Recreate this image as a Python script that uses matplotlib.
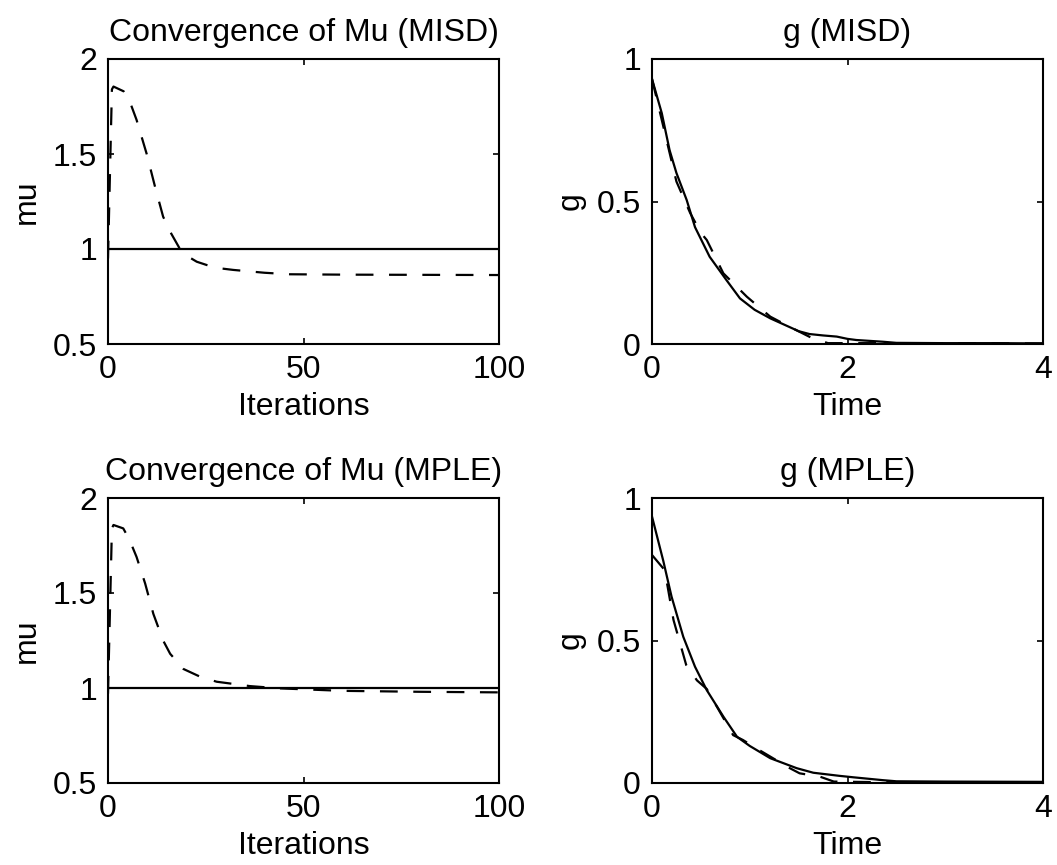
import matplotlib
matplotlib.use("Agg")
import matplotlib.pyplot as plt

plt.rcParams['font.family'] = ['Liberation Sans', 'DejaVu Sans']
FS = 23

# ---- data ----
iter_misd = [0, 1, 1.4, 4, 5.5, 7.3, 9.9, 12, 14.1, 16.2, 18.4, 20.5, 22.7, 25.2, 28, 32, 40, 46.5, 60, 80, 100]
mu_misd = [0.95, 1.84, 1.855, 1.83, 1.78, 1.68, 1.50, 1.33, 1.17, 1.08, 1.00, 0.96, 0.933, 0.916, 0.90, 0.89, 0.875, 0.867, 0.865, 0.864, 0.863]
iter_mple = [0, 1, 1.4, 3.9, 5.5, 7.3, 9.5, 11.6, 14.1, 15.9, 19.3, 23.5, 27.8, 36.3, 44, 60, 80, 100]
mu_mple = [0.97, 1.84, 1.858, 1.84, 1.78, 1.69, 1.55, 1.39, 1.25, 1.18, 1.10, 1.06, 1.033, 1.01, 0.998, 0.985, 0.98, 0.977]
true_mu = 1.0
iter_range = [0, 100]

t_true = [0.0, 0.1, 0.18, 0.25, 0.355, 0.44, 0.59, 0.76, 0.9, 1.05, 1.21, 1.41, 1.5, 1.61, 1.75, 1.89, 2.0, 2.09, 2.36, 2.5, 3.0, 3.5, 4.0]
g_true_misd = [0.93, 0.81, 0.68, 0.60, 0.505, 0.41, 0.306, 0.225, 0.16, 0.12, 0.09, 0.059, 0.045, 0.035, 0.03, 0.026, 0.018, 0.014, 0.008, 0.004, 0.003, 0.003, 0.002]
t_est_misd = [0.0, 0.25, 0.39, 0.5, 0.56, 0.73, 0.97, 1.21, 1.41, 1.63, 1.8, 2.3, 4.0]
g_est_misd = [0.93, 0.57, 0.46, 0.39, 0.365, 0.248, 0.166, 0.096, 0.06, 0.022, 0.003, 0.003, 0.002]

t_true2 = [0.0, 0.115, 0.2, 0.32, 0.44, 0.56, 0.73, 0.87, 1.0, 1.21, 1.48, 1.65, 1.92, 2.06, 2.36, 2.5, 3.0, 4.0]
g_true_mple = [0.935, 0.78, 0.654, 0.513, 0.408, 0.326, 0.233, 0.162, 0.13, 0.087, 0.052, 0.036, 0.025, 0.02, 0.01, 0.006, 0.005, 0.004]
t_est_mple = [0.0, 0.13, 0.22, 0.35, 0.46, 0.56, 0.83, 0.93, 1.1, 1.41, 1.51, 1.72, 1.86, 2.3, 4.0]
g_est_mple = [0.80, 0.747, 0.572, 0.414, 0.36, 0.33, 0.168, 0.151, 0.115, 0.052, 0.034, 0.022, 0.005, 0.003, 0.002]

fig = plt.figure(figsize=(10.57, 8.65), dpi=100)
W, H = 1057, 865
def ax_at(x0, y0, x1, y1):
    return fig.add_axes([x0 / W, 1 - y1 / H, (x1 - x0) / W, (y1 - y0) / H])

axs = [ax_at(108, 59, 499, 344), ax_at(652, 59, 1043, 344),
       ax_at(108, 498, 499, 783), ax_at(652, 498, 1043, 783)]

dash = dict(color='black', lw=1.6, dashes=(8, 7))
solid = dict(color='black', lw=1.6)

def style(ax):
    for s in ax.spines.values():
        s.set_linewidth(1.5)
    ax.tick_params(direction='in', top=True, right=True, length=4, width=1.2,
                   labelsize=FS)
    ax.tick_params(axis='x', pad=8)
    ax.tick_params(axis='y', pad=8)

for ax, it, mu, title in [(axs[0], iter_misd, mu_misd, 'Convergence of Mu (MISD)'),
                          (axs[2], iter_mple, mu_mple, 'Convergence of Mu (MPLE)')]:
    ax.plot(iter_range, [true_mu, true_mu], **solid)
    ax.plot(it, mu, **dash)
    ax.set_xlim(0, 100)
    ax.set_ylim(0.5, 2)
    ax.set_xticks([0, 50, 100])
    ax.set_yticks([0.5, 1, 1.5, 2])
    ax.set_yticklabels(['0.5', '1', '1.5', '2'])
    ax.set_title(title, fontsize=FS, pad=13)
    ax.set_xlabel('Iterations', fontsize=FS, labelpad=5)
    ax.set_ylabel('mu', fontsize=FS, labelpad=8)
    style(ax)

for ax, tt, gt, te, ge, title in [(axs[1], t_true, g_true_misd, t_est_misd, g_est_misd, 'g (MISD)'),
                                  (axs[3], t_true2, g_true_mple, t_est_mple, g_est_mple, 'g (MPLE)')]:
    ax.plot(tt, gt, **solid)
    ax.plot(te, ge, **dash)
    ax.set_xlim(0, 4)
    ax.set_ylim(0, 1)
    ax.set_xticks([0, 2, 4])
    ax.set_yticks([0, 0.5, 1])
    ax.set_yticklabels(['0', '0.5', '1'])
    ax.set_title(title, fontsize=FS, pad=13)
    ax.set_xlabel('Time', fontsize=FS, labelpad=5)
    ax.set_ylabel('g', fontsize=FS, labelpad=8)
    style(ax)

fig.savefig('out.png', dpi=100)
